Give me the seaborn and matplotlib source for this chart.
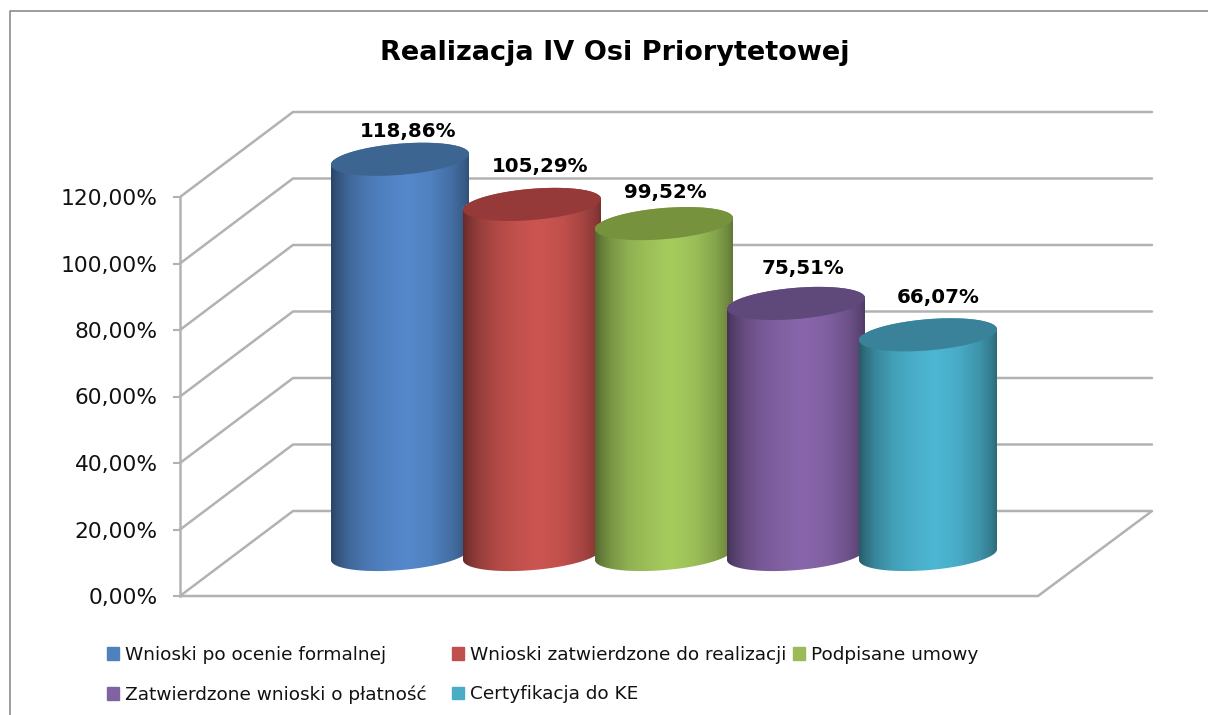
import numpy as np
import pandas as pd
import matplotlib
matplotlib.use('Agg')
import matplotlib.pyplot as plt
from matplotlib.lines import Line2D
from matplotlib.path import Path
import seaborn as sns

# values
categories = ['Wnioski po ocenie formalnej', 'Wnioski zatwierdzone do realizacji', 'Podpisane umowy',
              'Zatwierdzone wnioski o płatność', 'Certyfikacja do KE']
values = [118.86, 105.29, 99.52, 75.51, 66.07]
y_ticks = [0, 20, 40, 60, 80, 100, 120]
title = 'Realizacja IV Osi Priorytetowej'

# colours
light = ['#5589CC', '#CD5551', '#A6CC5E', '#8966AC', '#4DB7D3']
tops = ['#3D6591', '#953A38', '#76923C', '#5F497A', '#3A8299']
legend_colors = ['#4F81BD', '#C0504D', '#9BBB59', '#8064A2', '#4BACC6']
grid_color = '#B2B2B2'

W, H = 1208, 715
PX = 3.325  # pixels per percent
sns.set_theme(style='white')
plt.rcParams['font.family'] = ['DejaVu Sans']

fig = plt.figure(figsize=(W / 100, H / 100), dpi=100, facecolor='white')
left, right, bottom, top = 180, 1152, 596, 112
box = [left / W, 1 - bottom / H, (right - left) / W, (bottom - top) / H]

# walls and value axis
ax = fig.add_axes(box)
ax.set_xlim(left, right)
ax.set_ylim(0, (bottom - top) / PX)
depth_x, depth_y = 113, 85 / PX
for t in y_ticks:
    if t > 0:
        ax.plot([left, left + depth_x, right], [t, t + depth_y, t + depth_y], color=grid_color, lw=1.8, clip_on=False)
ax.plot([left, left + depth_x, right, 1038, left], [0, depth_y, depth_y, 0, 0], color=grid_color, lw=1.8, clip_on=False)
ax.set_yticks(y_ticks)
ax.set_yticklabels([f'{t:.2f}'.replace('.', ',') + '%' for t in y_ticks], fontsize=15.7, color='#111111')
ax.set_xticks([])
ax.tick_params(axis='y', left=True, length=5, width=1.5, color=grid_color, pad=11)
for s in ['top', 'right', 'bottom']:
    ax.spines[s].set_visible(False)
ax.spines['left'].set_bounds(0, 120)
ax.spines['left'].set_color(grid_color)
ax.spines['left'].set_linewidth(1.8)

# bars sit on the raised floor, so they get their own axes
base_px = 554.5
center0, spacing = 400, 132
ax2 = fig.add_axes(box, facecolor='none')
df = pd.DataFrame({'kategoria': categories, 'wartosc': values})
sns.barplot(data=df, x='kategoria', y='wartosc', hue='kategoria', palette=legend_colors,
            width=138 / spacing, saturation=1, legend=False, ax=ax2)
xlim2 = ((left - center0) / spacing, (right - center0) / spacing)
ylim2 = ((base_px - bottom) / PX, (base_px - top) / PX)

b, s = 4.7, 1.65  # cylinder cap: half height and tilt
shade_pos = [0, 0.04, 0.12, 0.25, 0.38, 0.55, 0.72, 0.88, 0.97, 1]
shade_val = [0.5, 0.6, 0.74, 0.87, 0.94, 1.0, 0.94, 0.8, 0.66, 0.58]
bars = [p for p in ax2.patches]
for i, bar in enumerate(bars):
    x0, w, v = bar.get_x(), bar.get_width(), bar.get_height()
    xc = x0 + w / 2
    t = np.linspace(0, -np.pi, 60)
    low_x = xc + w / 2 * np.cos(t)
    low_y = b * np.sin(t) + s * np.cos(t)
    tt = np.linspace(np.pi, 0, 60)
    up_x = xc + w / 2 * np.cos(tt)
    up_y = v + b * np.sin(tt) + s * np.cos(tt)
    body = Path(np.vstack([np.column_stack([low_x, low_y]), np.column_stack([up_x, up_y]), [low_x[0], low_y[0]]]), closed=False)

    shade = np.interp(np.linspace(0, 1, 256), shade_pos, shade_val)
    img = np.outer(shade, matplotlib.colors.to_rgb(light[i]))[np.newaxis, :, :]
    z = 3 + i
    bar.set_zorder(z)
    bar.set_clip_path(body, transform=ax2.transData)
    im = ax2.imshow(img, extent=[x0, x0 + w, -b - s, v + b + s], aspect='auto', zorder=z, interpolation='bilinear')
    im.set_clip_path(body, transform=ax2.transData)

    cap_t = np.linspace(0, 2 * np.pi, 120)
    ax2.fill(xc + w / 2 * np.cos(cap_t), v + b * np.sin(cap_t) + s * np.cos(cap_t), color=tops[i], lw=0, zorder=z, clip_on=False)

# data labels
label_dx = [8, 8, 1, 7, 10]
label_dy = [28, 38, 31, 35, 37]
for i, v in enumerate(values):
    ax2.annotate(f'{v:.2f}'.replace('.', ',') + '%', (i, v), xytext=(label_dx[i], label_dy[i]), textcoords='offset pixels',
                 ha='center', va='center', fontsize=14.3, fontweight='bold', color='black', zorder=20, annotation_clip=False)

ax2.set_xlim(xlim2)
ax2.set_ylim(ylim2)
ax2.axis('off')

# legend, one column each because the gaps between columns are not equal
legend_cols = [(107, [0, 3]), (452, [1, 4]), (793, [2])]
for x_px, idx in legend_cols:
    handles = [plt.Rectangle((0, 0), 1, 1, color=legend_colors[i]) for i in idx]
    fig.legend(handles, [categories[i] for i in idx], ncol=1, loc='upper left', bbox_to_anchor=(x_px / W, 1 - 646 / H),
               frameon=False, fontsize=13.3, handlelength=0.65, handleheight=0.65, handletextpad=0.33,
               labelspacing=1.16, borderpad=0, borderaxespad=0, labelcolor='#111111')

fig.text(615 / W, 1 - 53 / H, title, ha='center', va='center', fontsize=19.5, fontweight='bold', color='black')

# outer frame, it runs off the picture on the right and at the bottom
fig.add_artist(Line2D([10 / W, 10 / W, 1], [0, 1 - 11 / H, 1 - 11 / H], color='#8C8C8C', lw=1.2))

fig.savefig('out.png', dpi=100)
